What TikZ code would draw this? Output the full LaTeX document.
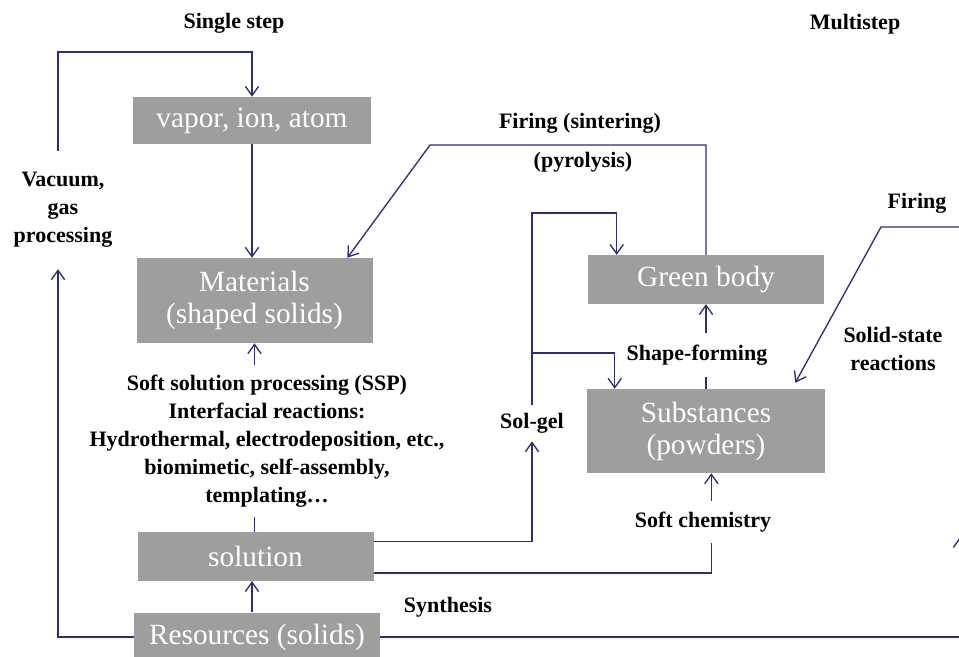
\documentclass[tikz,border=0pt]{standalone}
\usepackage{fontspec}
\setmainfont{Liberation Serif}
\usetikzlibrary{positioning,arrows.meta}
\definecolor{boxgray}{RGB}{158,158,158}
\definecolor{linkblue}{RGB}{46,46,116}

\begin{document}
\begin{tikzpicture}[x=0.75pt, y=-0.75pt, >={Straight Barb[length=7pt,width=10pt]}]
	\useasboundingbox (0,0) rectangle (959,656);
	\begin{scope}[every node/.style={fill=boxgray, text=white, inner sep=0pt, minimum width=177pt, minimum height=36.5pt, align=center, font=\fontsize{22}{24}\selectfont}]
		\node (vapor) at (252,120.5) [minimum width=178.5pt, minimum height=35.25pt] {vapor, ion, atom};
		\node (mat) at (254.5,300.5) [minimum height=63.75pt] {Materials\\(shaped solids)};
		\node (green) at (706,279.5) {Green body};
		\node (subst) at (706,431) [minimum width=178.5pt, minimum height=63pt] {Substances\\(powders)};
		\node (sol) at (255.5,556.5) {solution};
		\node (res) at (257,637) [minimum width=184.5pt] {Resources (solids)};
	\end{scope}
	\begin{scope}[every node/.style={font=\bfseries\fontsize{16.5}{21}\selectfont, align=center, inner sep=2pt}]
		\node (single) at (234,23) {Single step};
		\node (multi) at (855,24) {Multistep};
		\node (vac) at (63,210) [inner ysep=16pt] {Vacuum,\\gas\\processing};
		\node (firsint) at (580,123) {Firing (sintering)};
		\node (pyro) at (583,162) {(pyrolysis)};
		\node (firing) at (917,203) {Firing};
		\node (solidst) at (893,349) {Solid-state\\reactions};
		\node (shape) at (697,355) [inner ysep=9pt] {Shape-forming};
		\node (solgel) at (532,423) [inner ysep=6pt] {Sol-gel};
		\node (softchem) at (703,522) [inner ysep=8pt] {Soft chemistry};
		\node (synth) at (448,607) {Synthesis};
		\node (ssp) at (267,441) [inner ysep=7pt] {Soft solution processing (SSP)\\Interfacial reactions:\\Hydrothermal, electrodeposition, etc.,\\biomimetic, self-assembly,\\templating\ldots};
	\end{scope}
	\begin{scope}[linkblue, line width=1pt]
		\coordinate (vacTop) at (58,52);
		\coordinate (fsBend) at (430,145);
		\coordinate (sgTop) at (532,213);
		\coordinate (sgMid) at (532,353);
		\coordinate (frEnd) at (960,227);
		\coordinate (frBend) at (881,227);
		\coordinate (rgtLow) at (960,637);
		\coordinate (rgtUp) at (960,537);
		\draw[->] (vacTop |- vac.north) -- (vacTop) -| (vapor.north);
		\draw[->] (res.west) -| (vacTop |- vac.south);
		\draw[->] (vapor.south) -- (vapor.south |- mat.north);
		\draw[->] ([xshift=-3.75pt]res.north) -- ([xshift=-3.75pt]res.north |- sol.south);
		\draw (mat.south |- sol.north) -- (mat.south |- ssp.south);
		\draw[->] (mat.south |- ssp.north) -- (mat.south);
		\draw[->] (green.north) |- (fsBend) -- ([xshift=-19pt]mat.north east);
		\draw[->] ([yshift=-7pt]sol.north east) -| (solgel.south);
		\draw[->] (solgel.north) -- (sgTop) -| ([xshift=21.75pt]green.north west);
		\draw[->] (sgMid) -| ([xshift=21pt]subst.north west);
		\draw ([yshift=6pt]sol.south east) -| ([xshift=4pt]subst.south |- softchem.south);
		\draw[->] ([xshift=4pt]subst.south |- softchem.north) -- ([xshift=4pt]subst.south);
		\draw (subst.north) -- (subst.north |- shape.south);
		\draw[->] (subst.north |- shape.north) -- (green.south);
		\draw[->] (frEnd) -- (frBend) -- ([xshift=-22.5pt,yshift=4.5pt]subst.north east);
		\draw[->] (res.east) -- (rgtLow) -- (rgtUp);
	\end{scope}
\end{tikzpicture}
\end{document}
